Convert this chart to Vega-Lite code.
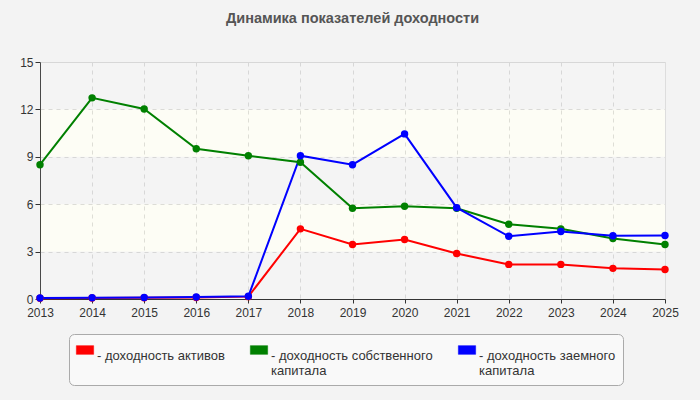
{
  "$schema": "https://vega.github.io/schema/vega-lite/v6.json",
  "width": 625,
  "height": 237,
  "autosize": {"type": "none"},
  "padding": {"left": 40, "top": 62, "right": 35, "bottom": 101},
  "background": "#f3f3f3",
  "title": {
    "text": "Динамика показателей доходности",
    "fontSize": 14.5,
    "fontWeight": "bold",
    "color": "#555555",
    "font": "Liberation Sans",
    "anchor": "middle",
    "offset": 30
  },
  "datasets": {
    "bands": [
      {"lo": 0, "hi": 3},
      {"lo": 3, "hi": 6},
      {"lo": 6, "hi": 9},
      {"lo": 9, "hi": 12},
      {"lo": 12, "hi": 15}
    ],
    "series": [
      {"year": 2013, "s": "a", "v": 0.05},
      {"year": 2014, "s": "a", "v": 0.06},
      {"year": 2015, "s": "a", "v": 0.08},
      {"year": 2016, "s": "a", "v": 0.1},
      {"year": 2017, "s": "a", "v": 0.15},
      {"year": 2018, "s": "a", "v": 4.44},
      {"year": 2019, "s": "a", "v": 3.45},
      {"year": 2020, "s": "a", "v": 3.77},
      {"year": 2021, "s": "a", "v": 2.88},
      {"year": 2022, "s": "a", "v": 2.19},
      {"year": 2023, "s": "a", "v": 2.19},
      {"year": 2024, "s": "a", "v": 1.94},
      {"year": 2025, "s": "a", "v": 1.87},
      {"year": 2013, "s": "b", "v": 8.5},
      {"year": 2014, "s": "b", "v": 12.73},
      {"year": 2015, "s": "b", "v": 12.03},
      {"year": 2016, "s": "b", "v": 9.51},
      {"year": 2017, "s": "b", "v": 9.07},
      {"year": 2018, "s": "b", "v": 8.66},
      {"year": 2019, "s": "b", "v": 5.74},
      {"year": 2020, "s": "b", "v": 5.87},
      {"year": 2021, "s": "b", "v": 5.74},
      {"year": 2022, "s": "b", "v": 4.73},
      {"year": 2023, "s": "b", "v": 4.44},
      {"year": 2024, "s": "b", "v": 3.83},
      {"year": 2025, "s": "b", "v": 3.45},
      {"year": 2013, "s": "c", "v": 0.06},
      {"year": 2014, "s": "c", "v": 0.08},
      {"year": 2015, "s": "c", "v": 0.1},
      {"year": 2016, "s": "c", "v": 0.13},
      {"year": 2017, "s": "c", "v": 0.17},
      {"year": 2018, "s": "c", "v": 9.07},
      {"year": 2019, "s": "c", "v": 8.5},
      {"year": 2020, "s": "c", "v": 10.45},
      {"year": 2021, "s": "c", "v": 5.78},
      {"year": 2022, "s": "c", "v": 3.97},
      {"year": 2023, "s": "c", "v": 4.27},
      {"year": 2024, "s": "c", "v": 4.0},
      {"year": 2025, "s": "c", "v": 4.02}
    ]
  },
  "layer": [
    {
      "data": {"name": "bands"},
      "mark": {"type": "rect"},
      "encoding": {
        "x": {"datum": 2013, "type": "quantitative"},
        "x2": {"datum": 2025},
        "y": {"field": "lo", "type": "quantitative"},
        "y2": {"field": "hi"},
        "fill": {
          "condition": {"test": "datum.lo % 6 == 0", "value": "#b8b8b8"},
          "value": "#e8e8a0"
        },
        "fillOpacity": {
          "condition": {"test": "datum.lo % 6 == 0", "value": 0.16},
          "value": 0.1
        }
      }
    },
    {
      "data": {"name": "series"},
      "mark": {"type": "line", "strokeWidth": 2},
      "encoding": {
        "x": {"field": "year", "type": "quantitative"},
        "y": {"field": "v", "type": "quantitative"},
        "color": {"field": "s", "type": "nominal"}
      }
    },
    {
      "data": {"name": "series"},
      "mark": {"type": "point", "filled": true, "size": 55, "opacity": 1},
      "encoding": {
        "x": {"field": "year", "type": "quantitative"},
        "y": {"field": "v", "type": "quantitative"},
        "color": {"field": "s", "type": "nominal"}
      }
    }
  ],
  "encoding": {
    "x": {
      "type": "quantitative",
      "scale": {"domain": [2013, 2025], "nice": false, "zero": false},
      "axis": {
        "title": null,
        "values": [2013, 2014, 2015, 2016, 2017, 2018, 2019, 2020, 2021, 2022, 2023, 2024, 2025],
        "format": "d",
        "grid": true,
        "gridDash": [4, 4],
        "gridColor": "#dddddd",
        "domainColor": "#333333",
        "tickColor": "#333333",
        "tickSize": 4,
        "labelPadding": 4,
        "labelFlush": false,
        "labelOverlap": false
      }
    },
    "y": {
      "type": "quantitative",
      "scale": {"domain": [0, 15], "nice": false},
      "axis": {
        "title": null,
        "values": [0, 3, 6, 9, 12, 15],
        "grid": true,
        "gridDash": [4, 4],
        "gridColor": "#dddddd",
        "domainColor": "#333333",
        "tickColor": "#333333",
        "tickSize": 5,
        "labelPadding": 2
      }
    },
    "color": {
      "type": "nominal",
      "scale": {"domain": ["a", "b", "c"], "range": ["#ff0000", "#008000", "#0000ff"]},
      "legend": {
        "title": null,
        "orient": "none",
        "legendX": 29,
        "legendY": 272,
        "direction": "horizontal",
        "columns": 3,
        "columnPadding": 24,
        "padding": 7,
        "fillColor": "#f9f9f9",
        "strokeColor": "#aaaaaa",
        "cornerRadius": 5,
        "symbolType": "M-1,-0.5H1V0.5H-1Z",
        "symbolSize": 300,
        "symbolStrokeColor": "#888888",
        "symbolStrokeWidth": 0.5,
        "symbolOpacity": 1,
        "labelBaseline": "top",
        "labelOffset": 3,
        "labelFontSize": 13,
        "labelColor": "#333333",
        "labelLimit": 300,
        "labelExpr": "datum.value == 'a' ? ['- доходность активов', ''] : datum.value == 'b' ? ['- доходность собственного', '\u00a0\u00a0капитала'] : ['- доходность заемного', '\u00a0\u00a0капитала']"
      }
    }
  },
  "config": {
    "font": "Liberation Sans",
    "view": {"stroke": "#dddddd", "fill": "#ffffff"},
    "axis": {"labelFontSize": 12, "labelColor": "#333333", "labelFont": "Liberation Sans"}
  }
}
